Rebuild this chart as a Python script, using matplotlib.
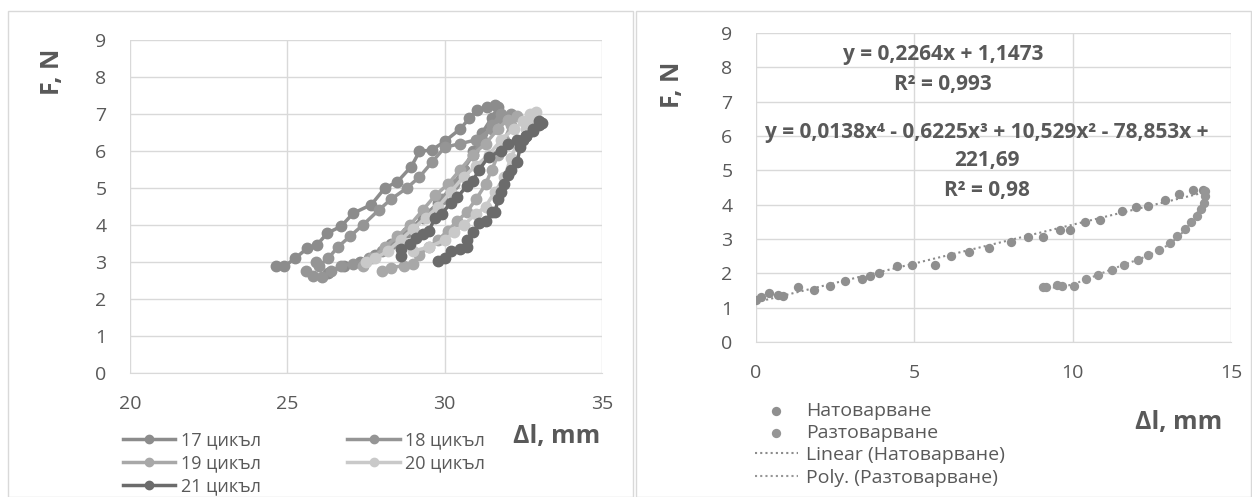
import matplotlib
matplotlib.use("Agg")
import matplotlib.pyplot as plt
import numpy as np
from matplotlib.patches import Rectangle

plt.rcParams["font.family"] = ["Open Sans", "DejaVu Sans"]

# ---- left chart: cycles 17..21 (loading then unloading) ----
c17_x = [26.3, 26.8, 27.3, 27.8, 28.3, 28.8, 29.3, 29.8, 30.2, 30.6, 30.9, 31.2, 31.5, 31.7,
         31.6, 31.36, 31.04, 30.78, 30.5, 30.0, 29.6, 29.2, 28.94, 28.5, 28.1, 27.67, 27.1,
         26.7, 26.27, 25.95, 25.63, 25.25, 24.9, 24.65]
c17_y = [2.7, 2.9, 3.0, 3.2, 3.5, 3.8, 4.2, 4.6, 5.0, 5.5, 6.0, 6.5, 6.9, 7.2,
         7.25, 7.2, 7.1, 6.88, 6.6, 6.26, 6.03, 5.99, 5.58, 5.17, 5.0, 4.55, 4.32,
         3.96, 3.78, 3.47, 3.37, 3.1, 2.88, 2.88]
c18_x = [25.6, 25.8, 26.1, 26.4, 26.7, 27.1, 27.6, 28.0, 28.5, 29.0, 29.5, 29.9, 30.3, 30.6,
         30.9, 31.2, 31.5, 31.8, 32.1, 31.8, 31.5, 31.0, 30.5, 30.0, 29.6, 29.2, 28.8, 28.3,
         27.9, 27.4, 27.0, 26.6, 26.3, 26.0, 25.9]
c18_y = [2.75, 2.62, 2.6, 2.75, 2.9, 2.95, 3.1, 3.3, 3.6, 3.9, 4.3, 4.7, 5.1, 5.5,
         5.9, 6.3, 6.7, 7.0, 7.0, 6.9, 6.6, 6.3, 6.2, 6.1, 5.7, 5.3, 5.0, 4.7,
         4.4, 4.0, 3.7, 3.4, 3.1, 2.9, 3.0]
c19_x = [28.0, 28.3, 28.7, 29.0, 29.2, 29.5, 29.8, 30.1, 30.4, 30.7, 31.0, 31.3, 31.5, 31.7,
         31.9, 32.1, 32.3, 32.0, 31.7, 31.3, 30.9, 30.5, 30.1, 29.7, 29.3, 28.9, 28.5, 28.1,
         27.7, 27.4]
c19_y = [2.75, 2.85, 2.9, 2.95, 3.2, 3.4, 3.6, 3.85, 4.1, 4.35, 4.7, 5.1, 5.5, 5.9,
         6.3, 6.7, 6.95, 6.85, 6.6, 6.2, 5.9, 5.5, 5.1, 4.8, 4.4, 4.0, 3.7, 3.4,
         3.1, 2.9]
c20_x = [29.0, 29.5, 30.0, 30.3, 30.6, 31.0, 31.3, 31.6, 31.9, 32.1, 32.3, 32.6, 32.8, 32.9,
         32.7, 32.5, 32.2, 31.8, 31.4, 31.0, 30.6, 30.2, 29.8, 29.4, 29.0, 28.6, 28.2, 27.8,
         27.5]
c20_y = [3.3, 3.4, 3.6, 3.8, 4.0, 4.3, 4.5, 4.9, 5.3, 5.8, 6.2, 6.6, 6.9, 7.05,
         7.0, 6.8, 6.6, 6.3, 5.9, 5.6, 5.3, 4.9, 4.5, 4.2, 3.9, 3.6, 3.3, 3.1,
         3.0]
c21_x = [29.8, 30.0, 30.2, 30.5, 30.7, 30.7, 30.9, 31.1, 31.3, 31.5, 31.6, 31.7, 31.8, 31.9,
         32.0, 32.1, 32.3, 32.4, 32.5, 32.6, 32.8, 33.0, 33.1, 33.0, 32.8, 32.6, 32.3, 32.0,
         31.8, 31.4, 31.1, 30.9, 30.7, 30.4, 30.2, 29.9, 29.7, 29.5, 29.3, 29.1, 28.9, 28.6,
         28.6]
c21_y = [3.02, 3.1, 3.3, 3.35, 3.4, 3.6, 3.8, 4.05, 4.1, 4.35, 4.35, 4.7, 4.9, 5.1,
         5.35, 5.5, 5.7, 6.1, 6.3, 6.4, 6.6, 6.8, 6.75, 6.7, 6.55, 6.4, 6.3, 6.2,
         6.0, 5.85, 5.5, 5.2, 5.05, 4.75, 4.6, 4.3, 4.2, 3.85, 3.75, 3.65, 3.5, 3.35,
         3.15]
cycle_names = ["17 цикъл", "18 цикъл", "19 цикъл", "20 цикъл", "21 цикъл"]
cycle_colors = ["#8c8c8c", "#959595", "#a8a8a8", "#c9c9c9", "#6b6b6b"]

# ---- right chart ----
load_x = [0.0, 0.15, 0.4, 0.7, 0.85, 1.34, 1.84, 2.34, 2.82, 3.35, 3.6, 3.88, 4.44, 4.94,
          5.66, 6.17, 6.73, 7.36, 8.05, 8.6, 9.05, 9.6, 9.92, 10.4, 10.86, 11.55, 11.99,
          12.37, 12.93, 13.37, 13.8, 14.1]
load_y = [1.23, 1.3, 1.43, 1.36, 1.35, 1.6, 1.52, 1.64, 1.79, 1.84, 1.92, 2.0, 2.2, 2.25,
          2.25, 2.5, 2.62, 2.74, 2.91, 3.06, 3.06, 3.27, 3.27, 3.49, 3.56, 3.83, 3.93,
          3.95, 4.15, 4.31, 4.42, 4.44]
unload_x = [14.19, 14.19, 14.16, 14.06, 13.93, 13.75, 13.56, 13.31, 13.06, 12.74, 12.37,
            12.05, 11.62, 11.24, 10.8, 10.43, 10.05, 9.67, 9.49, 9.17, 9.05]
unload_y = [4.39, 4.24, 4.05, 3.87, 3.68, 3.49, 3.29, 3.08, 2.88, 2.69, 2.54,
            2.38, 2.25, 2.09, 1.96, 1.84, 1.64, 1.62, 1.67, 1.6, 1.6]

grid_c = "#d9d9d9"
txt_c = "#595959"

fig = plt.figure(figsize=(12.52, 4.97), dpi=100)

# chart area borders
fig.patches.append(Rectangle((8 / 1252, 0), 625 / 1252, 486 / 497, transform=fig.transFigure,
                             fill=False, ec=grid_c, lw=1))
fig.patches.append(Rectangle((636 / 1252, 0), 615 / 1252, 486 / 497, transform=fig.transFigure,
                             fill=False, ec=grid_c, lw=1))


def style_axes(ax):
    ax.grid(True, color=grid_c, lw=1)
    ax.set_axisbelow(True)
    for side in ["top", "right", "left"]:
        ax.spines[side].set_visible(False)
    ax.spines["bottom"].set_color(grid_c)
    ax.tick_params(length=0, labelsize=14, colors=txt_c)
    ax.set_ylim(0, 9)
    ax.set_yticks(range(0, 10))


# left
axl = fig.add_axes([130 / 1252, 1 - 373 / 497, 472 / 1252, 333 / 497])
style_axes(axl)
cycles = [(c17_x, c17_y), (c18_x, c18_y), (c19_x, c19_y), (c20_x, c20_y), (c21_x, c21_y)]
handles = []
for (cx, cy), name, col in zip(cycles, cycle_names, cycle_colors):
    h, = axl.plot(cx, cy, "-o", color=col, lw=2.5, ms=7.5, label=name)
    handles.append(h)
axl.set_xlim(20, 35)
axl.set_xticks([20, 25, 30, 35])
axl.tick_params(axis="x", pad=16)
axl.tick_params(axis="y", pad=17)
fig.text(52 / 1252, 1 - 72 / 497, "F, N", rotation=90, ha="center", va="center",
         fontsize=18, fontweight="bold", color=txt_c)
fig.text(557 / 1252, 1 - 437 / 497, "Δl, mm", ha="center", va="center",
         fontsize=18, fontweight="bold", color=txt_c)
order = [0, 2, 4, 1, 3]
fig.legend([handles[i] for i in order], [cycle_names[i] for i in order],
           loc="upper left", bbox_to_anchor=(114 / 1252, 1 - 422 / 497), ncol=2,
           frameon=False, fontsize=13, labelcolor=txt_c, handlelength=2.9,
           handletextpad=0.3, columnspacing=4.8, labelspacing=0.28, borderpad=0,
           markerscale=0.8)

# right
axr = fig.add_axes([756 / 1252, 1 - 342 / 497, 475 / 1252, 309 / 497])
style_axes(axr)
axr.set_xlim(0, 15)
axr.set_xticks([0, 5, 10, 15])
axr.tick_params(axis="x", pad=16)
axr.tick_params(axis="y", pad=17)
axr.scatter(load_x, load_y, s=45, color="#8f8f8f", zorder=3, lw=0, label="Натоварване")
axr.scatter(unload_x, unload_y, s=45, color="#969696", zorder=3, lw=0, label="Разтоварване")
lin = np.polyfit(load_x, load_y, 1)
xl = np.linspace(min(load_x), max(load_x), 50)
axr.plot(xl, np.polyval(lin, xl), ls=(0, (1, 1.5)), color="#8c8c8c", lw=1.5, zorder=2,
         label="Linear (Натоварване)")
poly = np.polyfit(unload_x, unload_y, 4)
xp = np.linspace(min(unload_x), max(unload_x), 80)
axr.plot(xp, np.polyval(poly, xp), ls=(0, (1, 1.5)), color="#969696", lw=1.5, zorder=2,
         label="Poly. (Разтоварване)")
eq_kw = dict(ha="center", va="center", fontsize=15, fontweight="bold", color=txt_c,
             family=["Open Sans", "DejaVu Sans"])
axr.text(5.9, 8.36, "y = 0,2264x + 1,1473", **eq_kw)
axr.text(5.9, 7.49, "R² = 0,993", **eq_kw)
axr.text(7.3, 6.09, "y = 0,0138x⁴ - 0,6225x³ + 10,529x² - 78,853x +", **eq_kw)
axr.text(7.3, 5.3, "221,69", **eq_kw)
axr.text(7.3, 4.4, "R² = 0,98", **eq_kw)
fig.text(672 / 1252, 1 - 85 / 497, "F, N", rotation=90, ha="center", va="center",
         fontsize=18, fontweight="bold", color=txt_c)
fig.text(1179 / 1252, 1 - 423 / 497, "Δl, mm", ha="center", va="center",
         fontsize=18, fontweight="bold", color=txt_c)
rh, rl = axr.get_legend_handles_labels()
fig.legend(rh, rl, loc="upper left", bbox_to_anchor=(745 / 1252, 1 - 392 / 497),
           frameon=False, fontsize=14, labelcolor=txt_c, handlelength=2.2,
           handletextpad=0.45, labelspacing=0.22, borderpad=0, scatterpoints=1)

fig.savefig("out.png", dpi=100)
